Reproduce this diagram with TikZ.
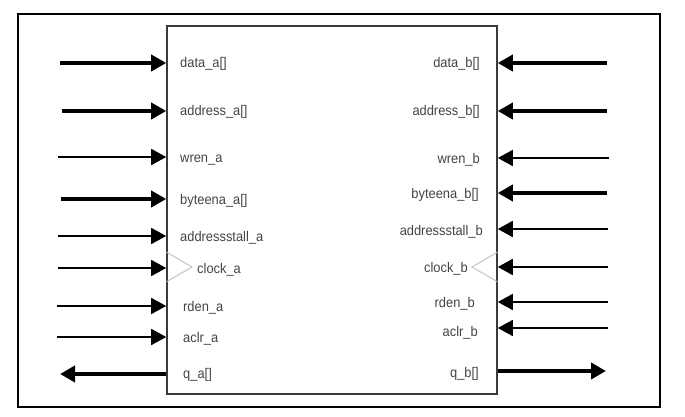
\documentclass[tikz,border=0pt]{standalone}
\usepackage{fontspec}
\newfontfamily\pinfont[FakeStretch=0.92]{Liberation Sans}
\usepackage{tikz}
\usetikzlibrary{arrows.meta, positioning}
\definecolor{pintext}{HTML}{444444}
\definecolor{boxline}{HTML}{3A3A3A}
\tikzstyle{frame} = [rectangle, draw=black, line width=1.8pt, minimum width=642pt, minimum height=393pt, inner sep=0pt]
\tikzstyle{block} = [rectangle, draw=boxline, line width=1.6pt, fill=white, minimum width=330pt, minimum height=368pt, inner sep=0pt]
\tikzstyle{pinA} = [anchor=base west, inner sep=0pt, text=pintext, font=\pinfont\fontsize{14}{16}\selectfont]
\tikzstyle{pinB} = [anchor=base east, inner sep=0pt, text=pintext, font=\pinfont\fontsize{14}{16}\selectfont]
\tikzstyle{bus} = [line width=4pt, -{Triangle[length=15pt,width=16pt]}]
\tikzstyle{wire} = [line width=1.7pt, -{Triangle[length=15pt,width=16pt]}]
\tikzstyle{clk} = [draw=gray!55, line width=0.8pt]

\begin{document}
\begin{tikzpicture}[x=1pt, y=-1pt]
  \useasboundingbox (0,0) rectangle (685,417);

  % Outer frame and RAM block
  \node (outer) at (339,210.5) [frame] {};
  \node (ram) at (332,210) [block] {};

  % Port A: labels
  \node (dataa) at (180,68) [pinA] {data\_a[]};
  \node (addra) at (180,116) [pinA] {address\_a[]};
  \node (wrena) at (180,162) [pinA] {wren\_a};
  \node (bytea) at (180,204) [pinA] {byteena\_a[]};
  \node (stalla) at (180,241) [pinA] {addressstall\_a};
  \node (clka) at (197,273) [pinA] {clock\_a};
  \node (rdena) at (183,311) [pinA] {rden\_a};
  \node (aclra) at (183,342) [pinA] {aclr\_a};
  \node (qa) at (183,378) [pinA] {q\_a[]};

  % Port B: labels
  \node (datab) at (480,68) [pinB] {data\_b[]};
  \node (addrb) at (480,116) [pinB] {address\_b[]};
  \node (wrenb) at (480,163) [pinB] {wren\_b};
  \node (byteb) at (479,198) [pinB] {byteena\_b[]};
  \node (stallb) at (483,235) [pinB] {addressstall\_b};
  \node (clkb) at (468,272) [pinB] {clock\_b};
  \node (rdenb) at (475,307) [pinB] {rden\_b};
  \node (aclrb) at (478,336) [pinB] {aclr\_b};
  \node (qb) at (479,377) [pinB] {q\_b[]};

  % Clock marks
  \draw[clk] (ram.west |- 0,252) -- (192,267) -- (ram.west |- 0,282);
  \draw[clk] (ram.east |- 0,252) -- (472,267) -- (ram.east |- 0,282);

  % Port A: free ends
  \coordinate (inDataA) at (60,63);
  \coordinate (inAddrA) at (62,111);
  \coordinate (inWrenA) at (58,157);
  \coordinate (inByteA) at (61,199);
  \coordinate (inStallA) at (58,236);
  \coordinate (inClkA) at (58,268);
  \coordinate (inRdenA) at (57,306);
  \coordinate (inAclrA) at (57,337);
  \coordinate (outQA) at (60,374);

  % Port B: free ends
  \coordinate (inDataB) at (607,63);
  \coordinate (inAddrB) at (607,111);
  \coordinate (inWrenB) at (609,158);
  \coordinate (inByteB) at (607,193);
  \coordinate (inStallB) at (608,229);
  \coordinate (inClkB) at (608,267);
  \coordinate (inRdenB) at (608,302);
  \coordinate (inAclrB) at (608,328);
  \coordinate (outQB) at (606,371);

  % Arrows into port A
  \draw[bus] (inDataA) -- (ram.west |- inDataA);
  \draw[bus] (inAddrA) -- (ram.west |- inAddrA);
  \draw[wire] (inWrenA) -- (ram.west |- inWrenA);
  \draw[bus] (inByteA) -- (ram.west |- inByteA);
  \draw[wire] (inStallA) -- (ram.west |- inStallA);
  \draw[wire] (inClkA) -- (ram.west |- inClkA);
  \draw[wire] (inRdenA) -- (ram.west |- inRdenA);
  \draw[wire] (inAclrA) -- (ram.west |- inAclrA);
  \draw[bus] (ram.west |- outQA) -- (outQA);

  % Arrows into port B
  \draw[bus] (inDataB) -- (ram.east |- inDataB);
  \draw[bus] (inAddrB) -- (ram.east |- inAddrB);
  \draw[wire] (inWrenB) -- (ram.east |- inWrenB);
  \draw[bus] (inByteB) -- (ram.east |- inByteB);
  \draw[wire] (inStallB) -- (ram.east |- inStallB);
  \draw[wire] (inClkB) -- (ram.east |- inClkB);
  \draw[wire] (inRdenB) -- (ram.east |- inRdenB);
  \draw[wire] (inAclrB) -- (ram.east |- inAclrB);
  \draw[bus] (ram.east |- outQB) -- (outQB);

\end{tikzpicture}
\end{document}
